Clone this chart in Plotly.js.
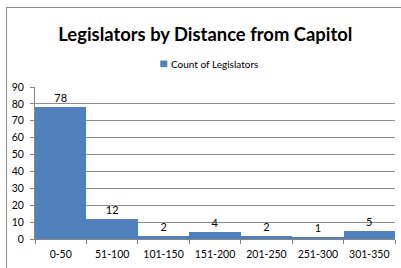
<!DOCTYPE html>
<html><head><meta charset="utf-8">
<script src="https://cdn.plot.ly/plotly-3.0.1.min.js"></script>
<style>
html,body{margin:0;padding:0;background:#fff;overflow:hidden;width:401px;height:268px;}
#frame{position:absolute;left:6px;top:7px;width:500px;height:400px;border:1px solid #8c8c8c;}
#chart{position:absolute;left:0;top:0;width:401px;height:268px;}
</style></head>
<body>
<div id="frame"></div>
<div id="chart"></div>
<script>
const categories = ["0-50","51-100","101-150","151-200","201-250","251-300","301-350"];
const counts = [78, 12, 2, 4, 2, 1, 5];
const seriesName = "Count of Legislators";
const yTicks = [0,10,20,30,40,50,60,70,80,90];
const barColor = "#4f81bd";
const font = "Lato, 'Open Sans', sans-serif";

const trace = {
  type: "bar", x: categories, y: counts, name: seriesName,
  marker: {color: barColor, line: {width: 0}},
  text: counts.map(String), textposition: "outside", cliponaxis: false,
  textfont: {family: font, size: 11, color: "#000"},
  showlegend: false
};
const layout = {
  width: 401, height: 268,
  paper_bgcolor: "rgba(0,0,0,0)", plot_bgcolor: "rgba(0,0,0,0)",
  margin: {l: 34.5, r: 6, t: 87, b: 28.5},
  bargap: 0,
  title: {text: "<b>Legislators by Distance from Capitol</b>", x: 0.512, xanchor: "center", y: 0.87, yanchor: "middle",
    font: {family: font, size: 18.4, color: "#000"}},
  showlegend: false,
  shapes: [{type: "rect", xref: "paper", yref: "paper", x0: 0.348, x1: 0.3675, y0: 1.131, y1: 1.174,
    fillcolor: barColor, line: {width: 0}}],
  annotations: [{text: seriesName, xref: "paper", yref: "paper", x: 0.371, xanchor: "left", y: 1.154, yanchor: "middle",
    showarrow: false, font: {family: font, size: 10, color: "#000"}}],
  xaxis: {type: "category", tickson: "boundaries", ticks: "outside", ticklen: 4, tickcolor: "#868686",
    showline: true, linecolor: "#868686", linewidth: 1, showgrid: false, ticklabelstandoff: 5,
    tickfont: {family: font, size: 10.5, color: "#000"}, fixedrange: true},
  yaxis: {range: [0, 90], tickvals: yTicks, ticks: "outside", ticklen: 4, tickcolor: "#868686",
    showline: true, linecolor: "#868686", linewidth: 1, showgrid: true, gridcolor: "#8c8c8c", gridwidth: 1,
    ticklabelstandoff: 4,
    zeroline: false, tickfont: {family: font, size: 10.5, color: "#000"}, fixedrange: true}
};
Plotly.newPlot("chart", [trace], layout, {displayModeBar: false, staticPlot: true});
</script>
</body></html>
